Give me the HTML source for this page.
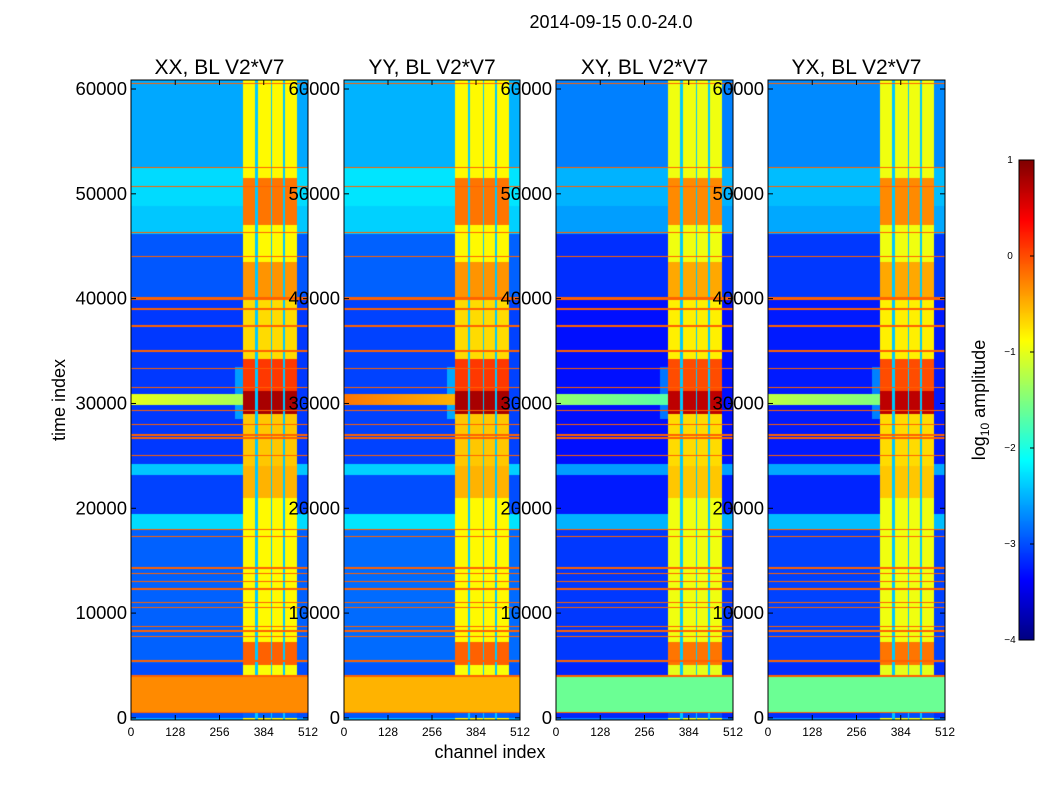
<!DOCTYPE html>
<html><head><meta charset="utf-8"><style>
body{margin:0;background:#fff;font-family:"Liberation Sans",sans-serif}
#root{position:relative;width:1050px;height:800px;overflow:hidden;background:#fff}
canvas{position:absolute}
svg{position:absolute;left:0;top:0}
</style></head><body>
<div id="root">
<canvas id="c0"></canvas>
<canvas id="c1"></canvas>
<canvas id="c2"></canvas>
<canvas id="c3"></canvas>
<canvas id="cb"></canvas>
<svg id="ov" width="1050" height="800"></svg>
</div>
<script>
// ---- data ----
const panelTitles=["XX, BL V2*V7","YY, BL V2*V7","XY, BL V2*V7","YX, BL V2*V7"];
const yTicks=[0,10000,20000,30000,40000,50000,60000];
const xTicks=[0,128,256,384,512];
const cbTicks=[1,0,-1,-2,-3,-4];
// background segments [tStart,tEnd,log10 level]
const bgSegs=[[0,500,-3.0],[500,4000,-3.0],[4000,5200,-3.0],[5200,18000,-2.9],[18000,19500,-2.3],[19500,23200,-3.05],[23200,24200,-2.4],[24200,40000,-3.1],[40000,46200,-2.95],[46200,48800,-2.4],[48800,52500,-2.3],[52500,61000,-2.55]];
// level of the bright channel columns per time segment
const bandSegs=[[0,500,-2.9],[500,4000,-0.3],[4000,5000,-0.9],[5000,7200,-0.1],[7200,21000,-0.85],[21000,24000,-0.5],[24000,29000,-0.6],[29000,31200,0.8],[31200,34200,0.1],[34200,40000,-0.7],[40000,43500,-0.35],[43500,47000,-0.85],[47000,51500,-0.2],[51500,61000,-0.85]];
// horizontal RFI lines (time, half-width)
const rfiLines=[[60500,60],[52500,80],[50700,60],[46300,60],[44000,60],[40000,160],[39000,60],[37400,60],[35000,60],[33300,60],[31500,60],[29300,60],[28000,60],[27000,60],[26700,60],[25000,60],[18000,60],[17300,60],[14300,60],[13800,60],[13000,60],[12300,60],[11000,60],[10500,60],[8700,60],[8300,60],[7800,60],[5400,80],[4000,80],[500,60]];
// bright channel columns [chStart,chEnd]
const chanCols=[[324,360],[368,405],[408,439],[446,480]];
// per-panel params
const bgOffset=[0,0.05,-0.2,-0.15];
const lowBand=[-0.3,-0.5,-1.6,-1.6];
const stripLevel=[-1.0,-0.2,-1.4,-1.2];
// ---- layout ----
const PX=[[131,308],[344,520],[556,733],[768,945]];
const Y0=80,Y1=720,TMAX=60860,TMIN=-200;
const yScale=t=>Y1-(t-TMIN)/(TMAX-TMIN)*(Y1-Y0);
function jet(v){let n=(v+4)/5;n=Math.max(0,Math.min(1,n));
 const c=x=>Math.round(255*Math.max(0,Math.min(1,x)));
 return [c(1.5-Math.abs(4*n-3)),c(1.5-Math.abs(4*n-2)),c(1.5-Math.abs(4*n-1))];}
function seg(arr,t){for(const s of arr)if(t>=s[0]&&t<s[1])return s[2];return arr[arr.length-1][2];}
function val(t,ch,p){
 for(const l of rfiLines)if(Math.abs(t-l[0])<=l[1])return -0.1;
 if(t>=500&&t<4000)return lowBand[p];
 for(const c of chanCols){if(ch>=c[0]&&ch<c[1]){return seg(bandSegs,t)+(p>=2?-0.1:0);}}
 if(ch>=324&&ch<480)return -2.4;
 let b=seg(bgSegs,t)+bgOffset[p];
 if(t>29900&&t<30900&&ch<324){return stripLevel[p]-(ch/324)*0.3;}
 if(t>28500&&t<33500&&ch>300&&ch<324)b+=0.5;
 return b;}
for(let p=0;p<4;p++){
 const cv=document.getElementById('c'+p);const w=PX[p][1]-PX[p][0],h=Y1-Y0;
 cv.width=w;cv.height=h;cv.style.left=PX[p][0]+'px';cv.style.top=Y0+'px';
 const ctx=cv.getContext('2d');const im=ctx.createImageData(w,h);
 for(let y=0;y<h;y++){const t=TMAX-(y+0.5)/h*(TMAX-TMIN);
  for(let x=0;x<w;x++){const ch=(x+0.5)/w*512;const c=jet(val(t,ch,p));const i=(y*w+x)*4;
   im.data[i]=c[0];im.data[i+1]=c[1];im.data[i+2]=c[2];im.data[i+3]=255;}}
 ctx.putImageData(im,0,0);}
// colorbar
{const cv=document.getElementById('cb');cv.width=15;cv.height=480;cv.style.left='1019px';cv.style.top='160px';
 const ctx=cv.getContext('2d');for(let y=0;y<480;y++){const c=jet(1-y/480*5);ctx.fillStyle=`rgb(${c})`;ctx.fillRect(0,y,15,1);}}
// overlay
const svg=document.getElementById('ov');const NS='http://www.w3.org/2000/svg';
function mk(tag,attrs,txt){const e=document.createElementNS(NS,tag);for(const k in attrs)e.setAttribute(k,attrs[k]);if(txt!==undefined)e.textContent=txt;svg.appendChild(e);return e;}
let e=mk('text',{x:611,y:28,'font-size':18,'text-anchor':'middle'},'2014-09-15 0.0-24.0');

for(let p=0;p<4;p++){const x0=PX[p][0],x1=PX[p][1];const xs=c=>x0+c/512*(x1-x0);
 e=mk('rect',{x:x0,y:Y0,width:x1-x0,height:Y1-Y0,fill:'none',stroke:'#000','stroke-width':1});
 
 e=mk('text',{x:(x0+x1)/2,y:74,'font-size':21,'text-anchor':'middle'},panelTitles[p]);
 
 for(const t of yTicks){const y=yScale(t);
  mk('line',{x1:x0,x2:x0+5,y1:y,y2:y,stroke:'#000'});mk('line',{x1:x1,x2:x1-5,y1:y,y2:y,stroke:'#000'});
  e=mk('text',{x:x0-4,y:y+6,'font-size':18.5,'text-anchor':'end'},String(t));
  }
 for(const c of xTicks){const x=xs(c);
  mk('line',{x1:x,x2:x,y1:Y1,y2:Y1-5,stroke:'#000'});mk('line',{x1:x,x2:x,y1:Y0,y2:Y0+5,stroke:'#000'});
  e=mk('text',{x:x,y:736,'font-size':12,'text-anchor':'middle'},String(c));
  }}
e=mk('text',{x:490,y:758,'font-size':18,'text-anchor':'middle'},'channel index');

e=mk('text',{x:65,y:400,'font-size':18,'text-anchor':'middle',transform:'rotate(-90 65 400)'},'time index');

e=mk('rect',{x:1019,y:160,width:15,height:480,fill:'none',stroke:'#000'});

cbTicks.forEach(v=>{const y=160+(1-v)/5*480;mk('line',{x1:1030,x2:1034,y1:y,y2:y,stroke:'#000'});
 e=mk('text',{x:1010,y:y+3,'font-size':10,'text-anchor':'middle'},v<0?'\u2212'+(-v):String(v));
 });
e=mk('text',{x:985,y:400,'font-size':18,'text-anchor':'middle',transform:'rotate(-90 985 400)'});

e.innerHTML='log<tspan font-size="12" dy="4">10</tspan><tspan dy="-4"> amplitude</tspan>';
</script>
</body></html>
